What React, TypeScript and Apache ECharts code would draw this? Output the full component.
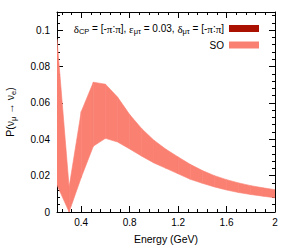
import React, { useEffect, useRef } from "react";
import * as echarts from "echarts";

const energy = [0.2, 0.3, 0.4, 0.5, 0.6, 0.7, 0.8, 0.9, 1.0, 1.1, 1.2, 1.3, 1.4, 1.5, 1.6, 1.7, 1.8, 1.9, 2.0];
const soUpper = [0.095, 0.0137, 0.0552, 0.0714, 0.0703, 0.0632, 0.0536, 0.0458, 0.0395, 0.0345, 0.0303, 0.0262, 0.0228, 0.02, 0.0178, 0.016, 0.0145, 0.0133, 0.0123];
const soLower = [0.0148, 0.0, 0.019, 0.0362, 0.0405, 0.0385, 0.0347, 0.0307, 0.027, 0.024, 0.021, 0.018, 0.0158, 0.0138, 0.0121, 0.0107, 0.0096, 0.0087, 0.0078];
const nsiData: number[][] = [];

const xMajor = [0.4, 0.8, 1.2, 1.6, 2];
const yMajor = [0, 0.02, 0.04, 0.06, 0.08, 0.1];

const xMinor: number[] = [];
for (let k = 3; k <= 25; k++) if (k % 5 !== 0) xMinor.push(Math.round(k * 0.08 * 1e6) / 1e6);
const yMinor: number[] = [];
for (let k = 1; k <= 27; k++) if (k % 5 !== 0) yMinor.push(Math.round(k * 0.004 * 1e6) / 1e6);

const FONT = "Liberation Sans";
const SALMON = "#fa8072";
const DARKRED = "#aa1100";

export default function App() {
  const ref = useRef<HTMLDivElement>(null);
  useEffect(() => {
    if (!ref.current) return;
    const chart = echarts.init(ref.current, undefined, { renderer: "svg" });
    const black = { color: "#000", width: 1 };
    const mkX = (pos: string, major: boolean, main: boolean) => ({
      type: "value",
      min: 0.2,
      max: 2,
      position: pos,
      axisLine: { show: main, onZero: false, lineStyle: black },
      axisTick: { show: true, inside: true, length: major ? 6 : 3, customValues: major ? xMajor : xMinor, lineStyle: black },
      axisLabel: main && pos === "bottom"
        ? { show: true, customValues: xMajor, color: "#000", fontSize: 10, fontFamily: FONT, margin: 5 }
        : { show: false },
      splitLine: { show: false },
      ...(main && pos === "bottom"
        ? { name: "Energy (GeV)", nameLocation: "middle", nameGap: 21, nameTextStyle: { color: "#000", fontSize: 10.5, fontFamily: FONT } }
        : {}),
    });
    const mkY = (pos: string, major: boolean, main: boolean) => ({
      type: "value",
      min: 0,
      max: 0.11,
      position: pos,
      axisLine: { show: main, onZero: false, lineStyle: black },
      axisTick: { show: true, inside: true, length: major ? 6 : 3, customValues: major ? yMajor : yMinor, lineStyle: black },
      axisLabel: main && pos === "left"
        ? { show: true, customValues: yMajor, color: "#000", fontSize: 10, fontFamily: FONT, margin: 7 }
        : { show: false },
      splitLine: { show: false },
      ...(main && pos === "left"
        ? {
            name: "{a|P(ν}{s|μ}{a| → ν}{s|e}{a|)}",
            nameLocation: "middle",
            nameGap: 40,
            nameTextStyle: {
              rich: {
                a: { fontSize: 10.5, fontFamily: FONT, color: "#000", lineHeight: 14, verticalAlign: "middle" },
                s: { fontSize: 7.5, fontFamily: FONT, color: "#000", lineHeight: 8, verticalAlign: "bottom" },
              },
            },
          }
        : {}),
    });
    const legendRich = {
      t: { fontSize: 10, fontFamily: FONT, color: "#000", lineHeight: 13, verticalAlign: "middle" },
      g: { fontSize: 11, fontFamily: "Liberation Serif", color: "#000", lineHeight: 13, verticalAlign: "middle" },
      s: { fontSize: 7.5, fontFamily: FONT, color: "#000", lineHeight: 8, verticalAlign: "bottom" },
    };
    const bandData = energy.slice(0, -1).map((e, i) => [e, soLower[i], soUpper[i], energy[i + 1], soLower[i + 1], soUpper[i + 1]]);
    chart.setOption({
      animation: false,
      textStyle: { fontFamily: FONT },
      grid: { left: 57, right: 19, top: 12, bottom: 33, containLabel: false, outerBoundsMode: "none" },
      xAxis: [mkX("bottom", true, true), mkX("bottom", false, false), mkX("top", true, true), mkX("top", false, false)],
      yAxis: [mkY("left", true, true), mkY("left", false, false), mkY("right", true, true), mkY("right", false, false)],
      legend: [
        {
          data: ["nsi"],
          right: 30,
          top: 18,
          icon: "rect",
          align: "right",
          itemWidth: 30,
          itemHeight: 7,
          formatter: () =>
            "{g|δ}{s|CP}{t| = [-}{g|π}{t|:}{g|π}{t|], }{g|ε}{s|μτ}{t| = 0.03, }{g|δ}{s|μτ}{t| = [-}{g|π}{t|:}{g|π}{t|]}",
          textStyle: { rich: legendRich },
        },
        {
          data: ["SO"],
          right: 30,
          top: 35,
          icon: "rect",
          align: "right",
          itemWidth: 30,
          itemHeight: 7,
          textStyle: { fontSize: 10, fontFamily: FONT, color: "#000" },
        },
      ],
      series: [
        {
          name: "nsi",
          type: "line",
          data: nsiData,
          itemStyle: { color: DARKRED },
          symbol: "none",
        },
        {
          name: "SO",
          type: "custom",
          data: bandData,
          encode: { x: [0, 3], y: [1, 2, 4, 5] },
          itemStyle: { color: SALMON },
          silent: true,
          clip: true,
          renderItem: (params: any, api: any) => {
            const p1 = api.coord([api.value(0), api.value(1)]);
            const p2 = api.coord([api.value(3), api.value(4)]);
            const p3 = api.coord([api.value(3), api.value(5)]);
            const p4 = api.coord([api.value(0), api.value(2)]);
            return {
              type: "polygon",
              shape: { points: [p1, p2, p3, p4] },
              style: { fill: SALMON, stroke: SALMON, lineWidth: 0.6 },
            };
          },
        },
      ],
    });
    return () => chart.dispose();
  }, []);
  return <div ref={ref} style={{ position: "absolute", left: 0, top: 0, width: 294, height: 245 }} />;
}
